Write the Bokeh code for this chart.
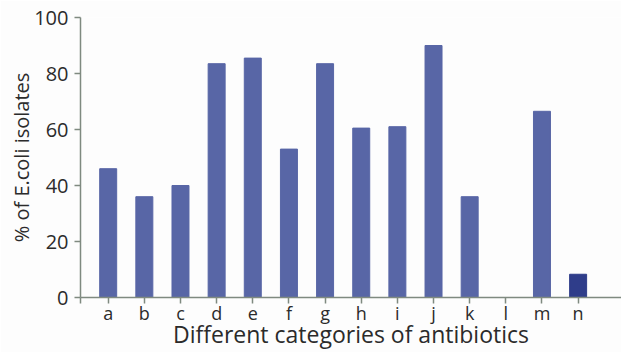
from bokeh.plotting import figure
from bokeh.models import FixedTicker, ColumnDataSource
from bokeh.embed import file_html
from bokeh.resources import INLINE

categories = ["a", "b", "c", "d", "e", "f", "g", "h", "i", "j", "k", "l", "m", "n"]
values = [46, 36, 40, 83.5, 85.5, 53, 83.5, 60.5, 61, 90, 36, 0, 66.5, 8.3]
bar_colors = ["#5866A6"] * 13 + ["#2F3D8A"]
y_ticks = [0, 20, 40, 60, 80, 100]

xs = list(range(1, len(categories) + 1))
src = ColumnDataSource(dict(x=xs, top=values, color=bar_colors))

x_start, x_end = 0.234, 15.2
p = figure(width=621, height=352, output_backend="svg", toolbar_location=None,
           x_range=(x_start, x_end), y_range=(0, 100),
           min_border_left=80, min_border_right=0, min_border_top=17, min_border_bottom=51)
p.vbar(x="x", top="top", width=0.47, color="color", source=src)

p.outline_line_color = None
p.xgrid.visible = False
p.ygrid.visible = False
p.background_fill_color = "#fdfdfd"
p.border_fill_color = "#fdfdfd"

font = "Open Sans"
for ax in (p.xaxis[0], p.yaxis[0]):
    ax.axis_line_color = "#7f8a80"
    ax.axis_line_width = 1.5
    ax.major_tick_line_color = "#7f8a80"
    ax.major_tick_line_width = 1.5
    ax.minor_tick_line_color = None
    ax.major_tick_in = 0
    ax.major_tick_out = 6
    ax.major_label_text_font = font
    ax.major_label_text_color = "#2b2b2b"
    ax.axis_label_text_font = font
    ax.axis_label_text_font_style = "normal"
    ax.axis_label_text_color = "#2b2b2b"

p.yaxis.ticker = FixedTicker(ticks=y_ticks)
p.yaxis.major_label_text_font_size = "20px"
p.yaxis.major_label_standoff = 6
p.yaxis.axis_label = "% of E.coli isolates"
p.yaxis.axis_label_text_font_size = "20px"
p.yaxis.axis_label_standoff = -4

p.xaxis.ticker = FixedTicker(ticks=[x_start] + xs)
overrides = {x: c for x, c in zip(xs, categories)}
overrides[x_start] = ""
p.xaxis.major_label_overrides = overrides
p.xaxis.major_label_text_font_size = "18px"
p.xaxis.major_label_standoff = -3
p.xaxis.axis_label = "Different categories of antibiotics"
p.xaxis.axis_label_text_font_size = "23px"
p.xaxis.axis_label_standoff = -10

open("out.html", "w").write(file_html(p, INLINE))
